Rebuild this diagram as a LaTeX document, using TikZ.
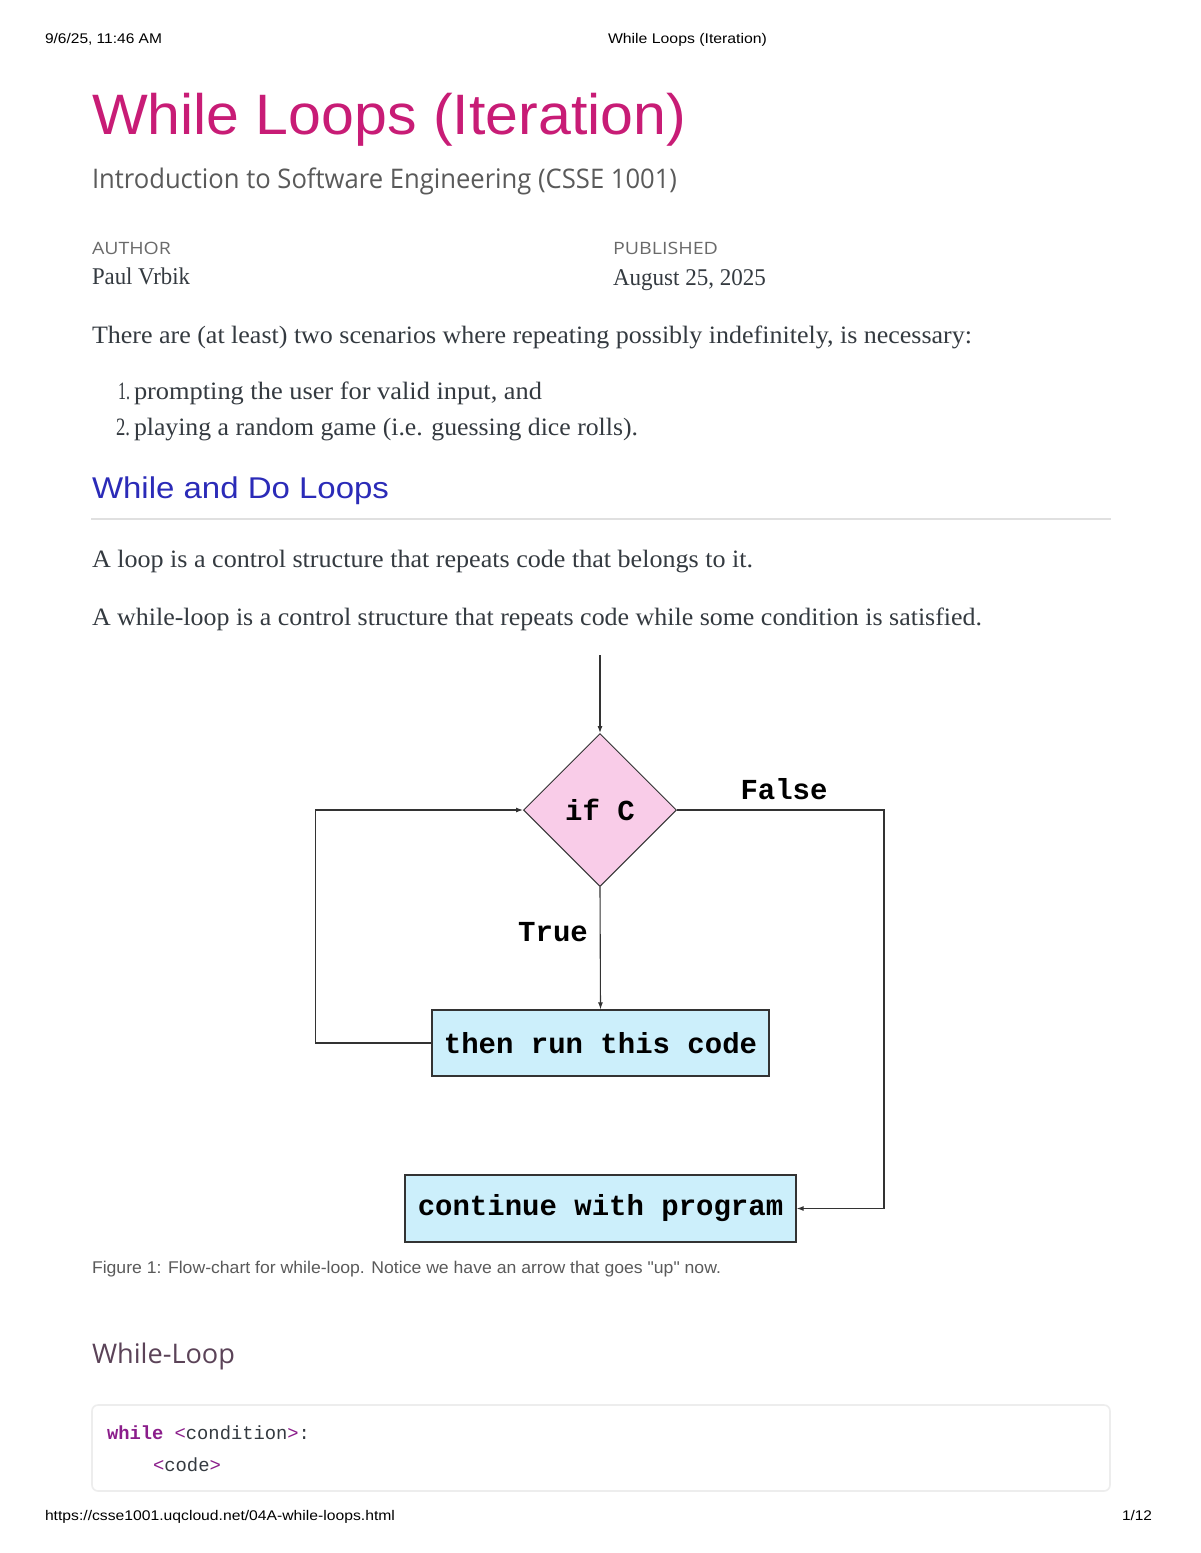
\documentclass[tikz,border=0pt]{standalone}
\usepackage{fontspec}
\usepackage{graphicx}
\setmainfont{Liberation Serif}
\newfontfamily\arialf{Liberation Sans}
\newfontfamily\osans{Open Sans}
\newfontfamily\monof{Liberation Mono}
\usetikzlibrary{arrows.meta,shapes.geometric}
\definecolor{titlec}{HTML}{C81C76}
\definecolor{headc}{HTML}{2B2BB8}
\definecolor{subc}{HTML}{5A5A5A}
\definecolor{metac}{HTML}{6A6A6A}
\definecolor{bodyc}{HTML}{343A40}
\definecolor{wlc}{HTML}{5B4358}
\definecolor{kwc}{HTML}{8B1D8B}
\definecolor{pinkf}{HTML}{F9CCE8}
\definecolor{bluef}{HTML}{CCEFFB}
\definecolor{linec}{HTML}{333333}
\newsavebox\fitbox
\newcommand\fitto[2]{\sbox\fitbox{#2}\pgfmathsetmacro\fitr{#1/\wd\fitbox}\scalebox{\fitr}[1]{\usebox\fitbox}}
\tikzset{
  txt/.style={anchor=base west, inner sep=0pt, outer sep=0pt},
  hdr/.style={txt, font=\arialf\fontsize{14}{16}\selectfont, text=black},
  body/.style={txt, font=\fontsize{25}{28}\selectfont, text=bodyc},
  flowbox/.style={draw=linec, line width=1.3pt, fill=bluef, inner sep=0pt,
    font=\monof\bfseries\fontsize{29}{32}\selectfont},
  decis/.style={diamond, draw=linec, line width=1pt, fill=pinkf, inner sep=0pt,
    minimum width=153pt, minimum height=153pt, font=\monof\bfseries\fontsize{29}{32}\selectfont},
  lab/.style={inner sep=0pt, font=\monof\bfseries\fontsize{29}{32}\selectfont},
  conn/.style={draw=linec, line width=1.1pt},
  arr/.style={conn, -{Latex[length=7pt,width=5pt]}},
}
\begin{document}
\begin{tikzpicture}[x=1pt,y=-1pt]
\useasboundingbox (0,0) rectangle (1200,1553);
\fill[white] (0,0) rectangle (1200,1553);
% header
\node[hdr] (hd1) at (45,43) {\fitto{117}{9/6/25, 11:46 AM}};
\node[hdr] (hd2) at (608,43) {\fitto{159}{While Loops (Iteration)}};
% title
\node[txt, text=titlec, font=\arialf\fontsize{57}{60}\selectfont] (title) at (92,134) {\fitto{594}{While Loops (Iteration)}};
\node[txt, text=subc, font=\osans\fontsize{27}{30}\selectfont] (sub) at (92,188) {\fitto{585}{Introduction to Software Engineering (CSSE 1001)}};
\node[txt, text=metac, font=\osans\fontsize{17}{20}\selectfont] (au) at (92,254) {\fitto{79}{AUTHOR}};
\node[txt, text=metac, font=\osans\fontsize{17}{20}\selectfont] (pub) at (613,254) {\fitto{105}{PUBLISHED}};
\node[txt, text=bodyc, font=\fontsize{24}{26}\selectfont] (pv) at (92,284) {\fitto{98}{Paul Vrbik}};
\node[txt, text=bodyc, font=\fontsize{24}{26}\selectfont] (date) at (613,285) {\fitto{153}{August 25, 2025}};
% body
\node[body] (p1) at (92,343) {\fitto{880}{There are (at least) two scenarios where repeating possibly indefinitely, is necessary:}};
\node[body, anchor=base east] (n1) at (130,399) {\fitto{12}{1.}};
\node[body] (l1) at (134,399) {\fitto{408}{prompting the user for valid input, and}};
\node[body, anchor=base east] (n2) at (130,435) {\fitto{14}{2.}};
\node[body] (l2) at (134,435) {\fitto{504}{playing a random game (i.e. guessing dice rolls).}};
\node[txt, text=headc, font=\arialf\fontsize{30}{32}\selectfont] (h2) at (92,498) {\fitto{297}{While and Do Loops}};
\draw[black!12, line width=2pt] (91,519) -- (1111,519);
\node[body] (p2) at (92,567) {\fitto{661}{A loop is a control structure that repeats code that belongs to it.}};
\node[body] (p3) at (92,625) {\fitto{890}{A while-loop is a control structure that repeats code while some condition is satisfied.}};
% flowchart
\coordinate (start) at (600,655);
\node[decis] (ifc) at (600,810) {if C};
\node[flowbox, minimum width=337pt, minimum height=66pt] (run) at (600.5,1043) {then run this code};
\node[flowbox, minimum width=391pt, minimum height=67pt] (cont) at (600.5,1208.5) {continue with program};
\draw[arr] (start) -- (ifc.north);
\draw[arr] (ifc.south) -- (run.north);
\draw[arr] (ifc.east) -- ++(207,0) |- (cont.east);
\draw[arr] (run.west) -- ++(-116,0) |- (ifc.west);
\node[lab] (fl) at (784,789) {False};
\node[lab] (tl) at (553,932) {True};
% caption
\node[txt, text=subc, font=\arialf\fontsize{17}{20}\selectfont] (cap) at (92,1273) {\fitto{629}{Figure 1: Flow-chart for while-loop. Notice we have an arrow that goes "up" now.}};
% While-Loop section
\node[txt, text=wlc, font=\osans\fontsize{27}{30}\selectfont] (h3) at (92,1363) {\fitto{143}{While-Loop}};
\draw[rounded corners=6pt, draw=black!7, line width=1.6pt, fill=white] (92,1405) rectangle (1110,1491);
\node[txt, font=\monof\fontsize{19}{22}\selectfont, text=bodyc] (c1) at (107,1439) {\fitto{203}{\textcolor{kwc}{\bfseries while} \textcolor{kwc}{<}condition\textcolor{kwc}{>}:}};
\node[txt, font=\monof\fontsize{19}{22}\selectfont, text=bodyc] (c2) at (153,1471) {\fitto{68}{\textcolor{kwc}{<}code\textcolor{kwc}{>}}};
% footer
\node[hdr] (ft1) at (45,1520) {\fitto{350}{https://csse1001.uqcloud.net/04A-while-loops.html}};
\node[hdr] (ft2) at (1122,1520) {\fitto{30}{1/12}};
\end{tikzpicture}
\end{document}
